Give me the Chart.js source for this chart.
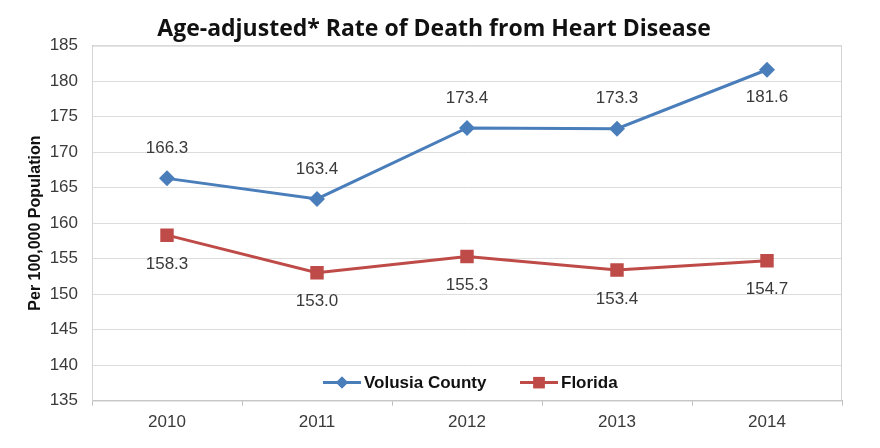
<!DOCTYPE html>
<html>
<head>
<meta charset="utf-8">
<script src="https://cdn.jsdelivr.net/npm/chart.js@4"></script>
<style>
  html, body { margin: 0; padding: 0; background: #fff; }
  #wrap { width: 880px; height: 448px; }
</style>
</head>
<body>
<div id="wrap"><canvas id="heartChart" width="880" height="448"></canvas></div>
<script>
// Chart data
var years = ['2010', '2011', '2012', '2013', '2014'];
var volusiaRates = [166.3, 163.4, 173.4, 173.3, 181.6];
var floridaRates = [158.3, 153.0, 155.3, 153.4, 154.7];
var seriesNames = ['Volusia County', 'Florida'];

var blue = '#4A7EBB';
var red = '#BE4B48';
var fontFamily = '"Liberation Sans", Arial, sans-serif';

// Draws value labels: above the line for Volusia (last one below), below for Florida
var valueLabels = {
    id: 'valueLabels',
    afterDatasetsDraw: function(chart) {
        var ctx = chart.ctx;
        ctx.save();
        ctx.font = '17px ' + fontFamily;
        ctx.fillStyle = '#3a3a3a';
        ctx.textAlign = 'center';
        ctx.textBaseline = 'middle';
        chart.data.datasets.forEach(function(ds, i) {
            var meta = chart.getDatasetMeta(i);
            meta.data.forEach(function(pt, j) {
                var dy;
                if (i === 0) {
                    dy = (j === ds.data.length - 1) ? 28 : -30;
                } else {
                    dy = 29;
                }
                ctx.fillText(ds.data[j].toFixed(1), pt.x, pt.y + dy);
            });
        });
        ctx.restore();
    }
};

// Plot area frame + legend drawn inside the plot area
var frameAndLegend = {
    id: 'frameAndLegend',
    beforeDatasetsDraw: function(chart) {
        var a = chart.chartArea, ctx = chart.ctx;
        ctx.save();
        ctx.strokeStyle = '#d4d4d4';
        ctx.lineWidth = 1;
        ctx.strokeRect(a.left + 0.5, a.top + 0.5, a.right - a.left - 1, a.bottom - a.top);
        ctx.restore();
    },
    afterDraw: function(chart) {
        var a = chart.chartArea, ctx = chart.ctx;
        var y = a.bottom - 18;
        var items = [
            { x: 323, color: blue, style: 'rectRot', r: 6 },
            { x: 520, color: red, style: 'rect', r: 8 }
        ];
        ctx.save();
        ctx.font = 'bold 17px ' + fontFamily;
        ctx.textBaseline = 'middle';
        items.forEach(function(it, i) {
            ctx.strokeStyle = it.color;
            ctx.lineWidth = 3;
            ctx.beginPath();
            ctx.moveTo(it.x, y);
            ctx.lineTo(it.x + 38, y);
            ctx.stroke();
            ctx.fillStyle = it.color;
            Chart.helpers.drawPoint(ctx, { pointStyle: it.style, radius: it.r, borderWidth: 0 }, it.x + 19, y);
            ctx.fill();
            ctx.fillStyle = '#111';
            ctx.fillText(seriesNames[i], it.x + 41, y + 1);
        });
        ctx.restore();
    }
};

new Chart(document.getElementById('heartChart').getContext('2d'), {
    type: 'line',
    data: {
        labels: years,
        datasets: [{
            label: seriesNames[0],
            data: volusiaRates,
            borderColor: blue,
            backgroundColor: blue,
            borderWidth: 3,
            pointStyle: 'rectRot',
            pointRadius: 8,
            pointBorderWidth: 0,
            tension: 0
        }, {
            label: seriesNames[1],
            data: floridaRates,
            borderColor: red,
            backgroundColor: red,
            borderWidth: 3,
            pointStyle: 'rect',
            pointRadius: 9.5,
            pointBorderWidth: 0,
            tension: 0
        }]
    },
    options: {
        responsive: false,
        animation: false,
        layout: {
            padding: { left: 26, right: 38, top: 8, bottom: 8 }
        },
        scales: {
            x: {
                offset: true,
                grid: {
                    offset: true,
                    drawOnChartArea: false,
                    tickLength: 5,
                    color: '#bdbdbd'
                },
                border: { color: '#bdbdbd' },
                ticks: {
                    color: '#3a3a3a',
                    padding: 7,
                    font: { size: 17, family: fontFamily }
                }
            },
            y: {
                min: 135,
                max: 185,
                afterFit: function(scale) { scale.width = 66; },
                ticks: {
                    stepSize: 5,
                    color: '#3a3a3a',
                    padding: 14,
                    font: { size: 17, family: fontFamily }
                },
                grid: {
                    color: '#dcdcdc',
                    drawTicks: false
                },
                border: { color: '#bdbdbd' },
                title: {
                    display: true,
                    text: 'Per 100,000 Population',
                    color: '#111',
                    padding: { top: 0, bottom: 2 },
                    font: { size: 16, weight: 'bold', family: fontFamily }
                }
            }
        },
        plugins: {
            legend: { display: false },
            tooltip: { enabled: false },
            title: {
                display: true,
                text: 'Age-adjusted* Rate of Death from Heart Disease',
                color: '#111',
                padding: { top: 8, bottom: 2 },
                font: { size: 23, weight: 'bold', family: '"Open Sans", sans-serif' }
            }
        }
    },
    plugins: [valueLabels, frameAndLegend]
});
</script>
</body>
</html>
